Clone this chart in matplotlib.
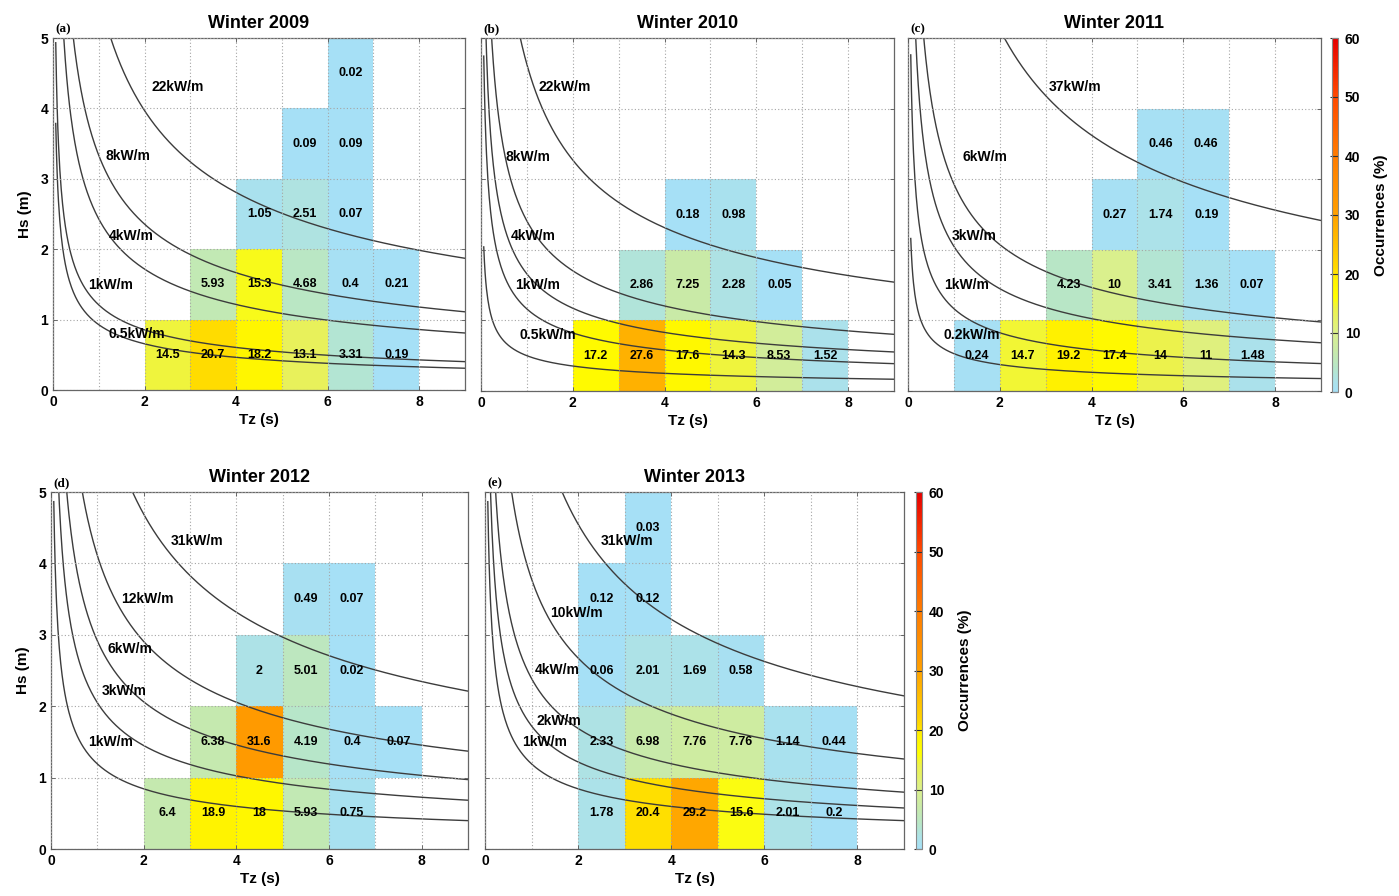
import matplotlib
matplotlib.use("Agg")
import matplotlib.pyplot as plt
import numpy as np
from matplotlib.colors import LinearSegmentedColormap

plt.rcParams['font.family'] = ['Liberation Sans', 'DejaVu Sans']
plt.rcParams['font.weight'] = 'bold'

nan = np.nan

# occurrence (%) per bin: rows are Hs 0-1 ... 4-5 m, columns Tz 0-1 ... 8-9 s
occ_2009 = [
    [nan, nan, 14.5, 20.7, 18.2, 13.1, 3.31, 0.19, nan],
    [nan, nan, nan, 5.93, 15.3, 4.68, 0.4, 0.21, nan],
    [nan, nan, nan, nan, 1.05, 2.51, 0.07, nan, nan],
    [nan, nan, nan, nan, nan, 0.09, 0.09, nan, nan],
    [nan, nan, nan, nan, nan, nan, 0.02, nan, nan],
]
occ_2010 = [
    [nan, nan, 17.2, 27.6, 17.6, 14.3, 8.53, 1.52, nan],
    [nan, nan, nan, 2.86, 7.25, 2.28, 0.05, nan, nan],
    [nan, nan, nan, nan, 0.18, 0.98, nan, nan, nan],
    [nan, nan, nan, nan, nan, nan, nan, nan, nan],
    [nan, nan, nan, nan, nan, nan, nan, nan, nan],
]
occ_2011 = [
    [nan, 0.24, 14.7, 19.2, 17.4, 14, 11, 1.48, nan],
    [nan, nan, nan, 4.23, 10, 3.41, 1.36, 0.07, nan],
    [nan, nan, nan, nan, 0.27, 1.74, 0.19, nan, nan],
    [nan, nan, nan, nan, nan, 0.46, 0.46, nan, nan],
    [nan, nan, nan, nan, nan, nan, nan, nan, nan],
]
occ_2012 = [
    [nan, nan, 6.4, 18.9, 18, 5.93, 0.75, nan, nan],
    [nan, nan, nan, 6.38, 31.6, 4.19, 0.4, 0.07, nan],
    [nan, nan, nan, nan, 2, 5.01, 0.02, nan, nan],
    [nan, nan, nan, nan, nan, 0.49, 0.07, nan, nan],
    [nan, nan, nan, nan, nan, nan, nan, nan, nan],
]
occ_2013 = [
    [nan, nan, 1.78, 20.4, 29.2, 15.6, 2.01, 0.2, nan],
    [nan, nan, 2.33, 6.98, 7.76, 7.76, 1.14, 0.44, nan],
    [nan, nan, 0.06, 2.01, 1.69, 0.58, nan, nan, nan],
    [nan, nan, 0.12, 0.12, nan, nan, nan, nan, nan],
    [nan, nan, nan, 0.03, nan, nan, nan, nan, nan],
]

# iso-power curves, drawn as Hs^2 * Tz = const
curves_2009 = [31.5, 11.1, 5.9, 1.46, 0.86]
curves_2010 = [21.4, 5.8, 2.75, 1.35, 0.25]
curves_2011 = [52.5, 8.6, 4.2, 1.36, 0.28]
curves_2012 = [44.0, 16.9, 8.5, 4.2, 1.42]
curves_2013 = [41.4, 14.3, 5.7, 2.97, 1.42]

# curve labels: text, Tz, Hs
labels_2009 = [("22kW/m", 2.73, 4.3), ("8kW/m", 1.64, 3.32), ("4kW/m", 1.71, 2.19),
               ("1kW/m", 1.25, 1.49), ("0.5kW/m", 1.82, 0.8)]
labels_2010 = [("22kW/m", 1.83, 4.3), ("8kW/m", 1.02, 3.31), ("4kW/m", 1.13, 2.19),
               ("1kW/m", 1.24, 1.5), ("0.5kW/m", 1.46, 0.8)]
labels_2011 = [("37kW/m", 3.64, 4.3), ("6kW/m", 1.67, 3.31), ("3kW/m", 1.45, 2.19),
               ("1kW/m", 1.27, 1.5), ("0.2kW/m", 1.38, 0.8)]
labels_2012 = [("31kW/m", 3.15, 4.31), ("12kW/m", 2.07, 3.5), ("6kW/m", 1.71, 2.8),
               ("3kW/m", 1.57, 2.21), ("1kW/m", 1.28, 1.5)]
labels_2013 = [("31kW/m", 3.04, 4.31), ("10kW/m", 1.97, 3.3), ("4kW/m", 1.55, 2.51),
               ("2kW/m", 1.58, 1.79), ("1kW/m", 1.29, 1.5)]

years = ["Winter 2009", "Winter 2010", "Winter 2011", "Winter 2012", "Winter 2013"]
tags = ["(a)", "(b)", "(c)", "(d)", "(e)"]

cmap = LinearSegmentedColormap.from_list("occ", [
    (0 / 60, "#a6e0f6"), (2 / 60, "#ade2e6"), (4 / 60, "#b7e6c9"),
    (7 / 60, "#c9eaa8"), (10 / 60, "#dbf08c"), (14 / 60, "#ecf24a"),
    (16 / 60, "#ffff00"), (19 / 60, "#fff200"), (21 / 60, "#ffd800"),
    (27 / 60, "#ffb400"), (31 / 60, "#ff9c00"), (40 / 60, "#ff7c00"),
    (50 / 60, "#ff4a00"), (60 / 60, "#e60000")])

W, H = 1399, 896
fig = plt.figure(figsize=(W / 100, H / 100), dpi=100)


def px_axes(left, right, top, bottom):
    return fig.add_axes([left / W, 1 - bottom / H, (right - left) / W, (bottom - top) / H])


boxes = [(53, 465, 38, 390), (481, 894, 38, 391), (908, 1321, 38, 391),
         (51, 468, 492, 849), (485, 904, 492, 849)]
occs = [occ_2009, occ_2010, occ_2011, occ_2012, occ_2013]
curves = [curves_2009, curves_2010, curves_2011, curves_2012, curves_2013]
labels = [labels_2009, labels_2010, labels_2011, labels_2012, labels_2013]

tz_edges = np.arange(0, 10)
hs_edges = np.arange(0, 6)
tz = np.linspace(0.06, 9, 600)

meshes = []
for i in range(5):
    ax = px_axes(*boxes[i])
    z = np.ma.masked_invalid(np.array(occs[i], dtype=float))
    m = ax.pcolormesh(tz_edges, hs_edges, z, cmap=cmap, vmin=0, vmax=60, zorder=1)
    meshes.append(m)

    for c in curves[i]:
        ax.plot(tz, np.sqrt(c / tz), color="#3c3c3c", lw=1.0, zorder=2)

    for r in range(5):
        for k in range(9):
            v = occs[i][r][k]
            if not np.isnan(v):
                ax.text(k + 0.5, r + 0.5, f"{v:g}", ha="center", va="center",
                        fontsize=9, fontweight="bold", zorder=4)

    for txt, x, y in labels[i]:
        ax.text(x, y, txt, ha="center", va="center", fontsize=10,
                fontweight="bold", zorder=4)

    ax.set_xlim(0, 9)
    ax.set_ylim(0, 5)
    ax.set_xticks([0, 2, 4, 6, 8])
    ax.set_xticks(range(1, 9), minor=True)
    ax.set_yticks(range(6))
    ax.set_axisbelow(False)
    ax.grid(True, which="both", linestyle=(0, (1, 2)), color="#a5a5a5", lw=0.8)
    ax.tick_params(direction="in", length=3, width=0.6, labelsize=10,
                   top=True, right=True, colors="#555555", labelcolor="black")
    ax.tick_params(which="minor", length=0)
    for s in ax.spines.values():
        s.set_color("#666666")
        s.set_linewidth(0.9)
    if i in (0, 3):
        ax.set_ylabel("Hs (m)", fontsize=11, fontweight="bold", labelpad=6)
    else:
        ax.set_yticklabels([])
    ax.set_xlabel("Tz (s)", fontsize=11, fontweight="bold", labelpad=3)
    ax.set_title(years[i], fontsize=13, fontweight="bold", pad=7)
    ax.text(0.005, 1.008, tags[i], transform=ax.transAxes, ha="left", va="bottom",
            fontsize=9.5, fontweight="bold", family="Liberation Serif")

for (l, r, t, b), m in [((1332, 1338, 38, 392), meshes[2]), ((916, 922, 492, 849), meshes[4])]:
    cax = px_axes(l, r, t, b)
    cb = fig.colorbar(m, cax=cax, ticks=range(0, 61, 10))
    cb.outline.set_edgecolor("#888888")
    cb.outline.set_linewidth(0.8)
    cax.tick_params(direction="in", length=6, width=0.8, labelsize=10, colors="#333333",
                    labelcolor="black", pad=5)
    cb.set_label("Occurrences (%)", fontsize=11, fontweight="bold", labelpad=10)

fig.savefig("out.png", dpi=100)
